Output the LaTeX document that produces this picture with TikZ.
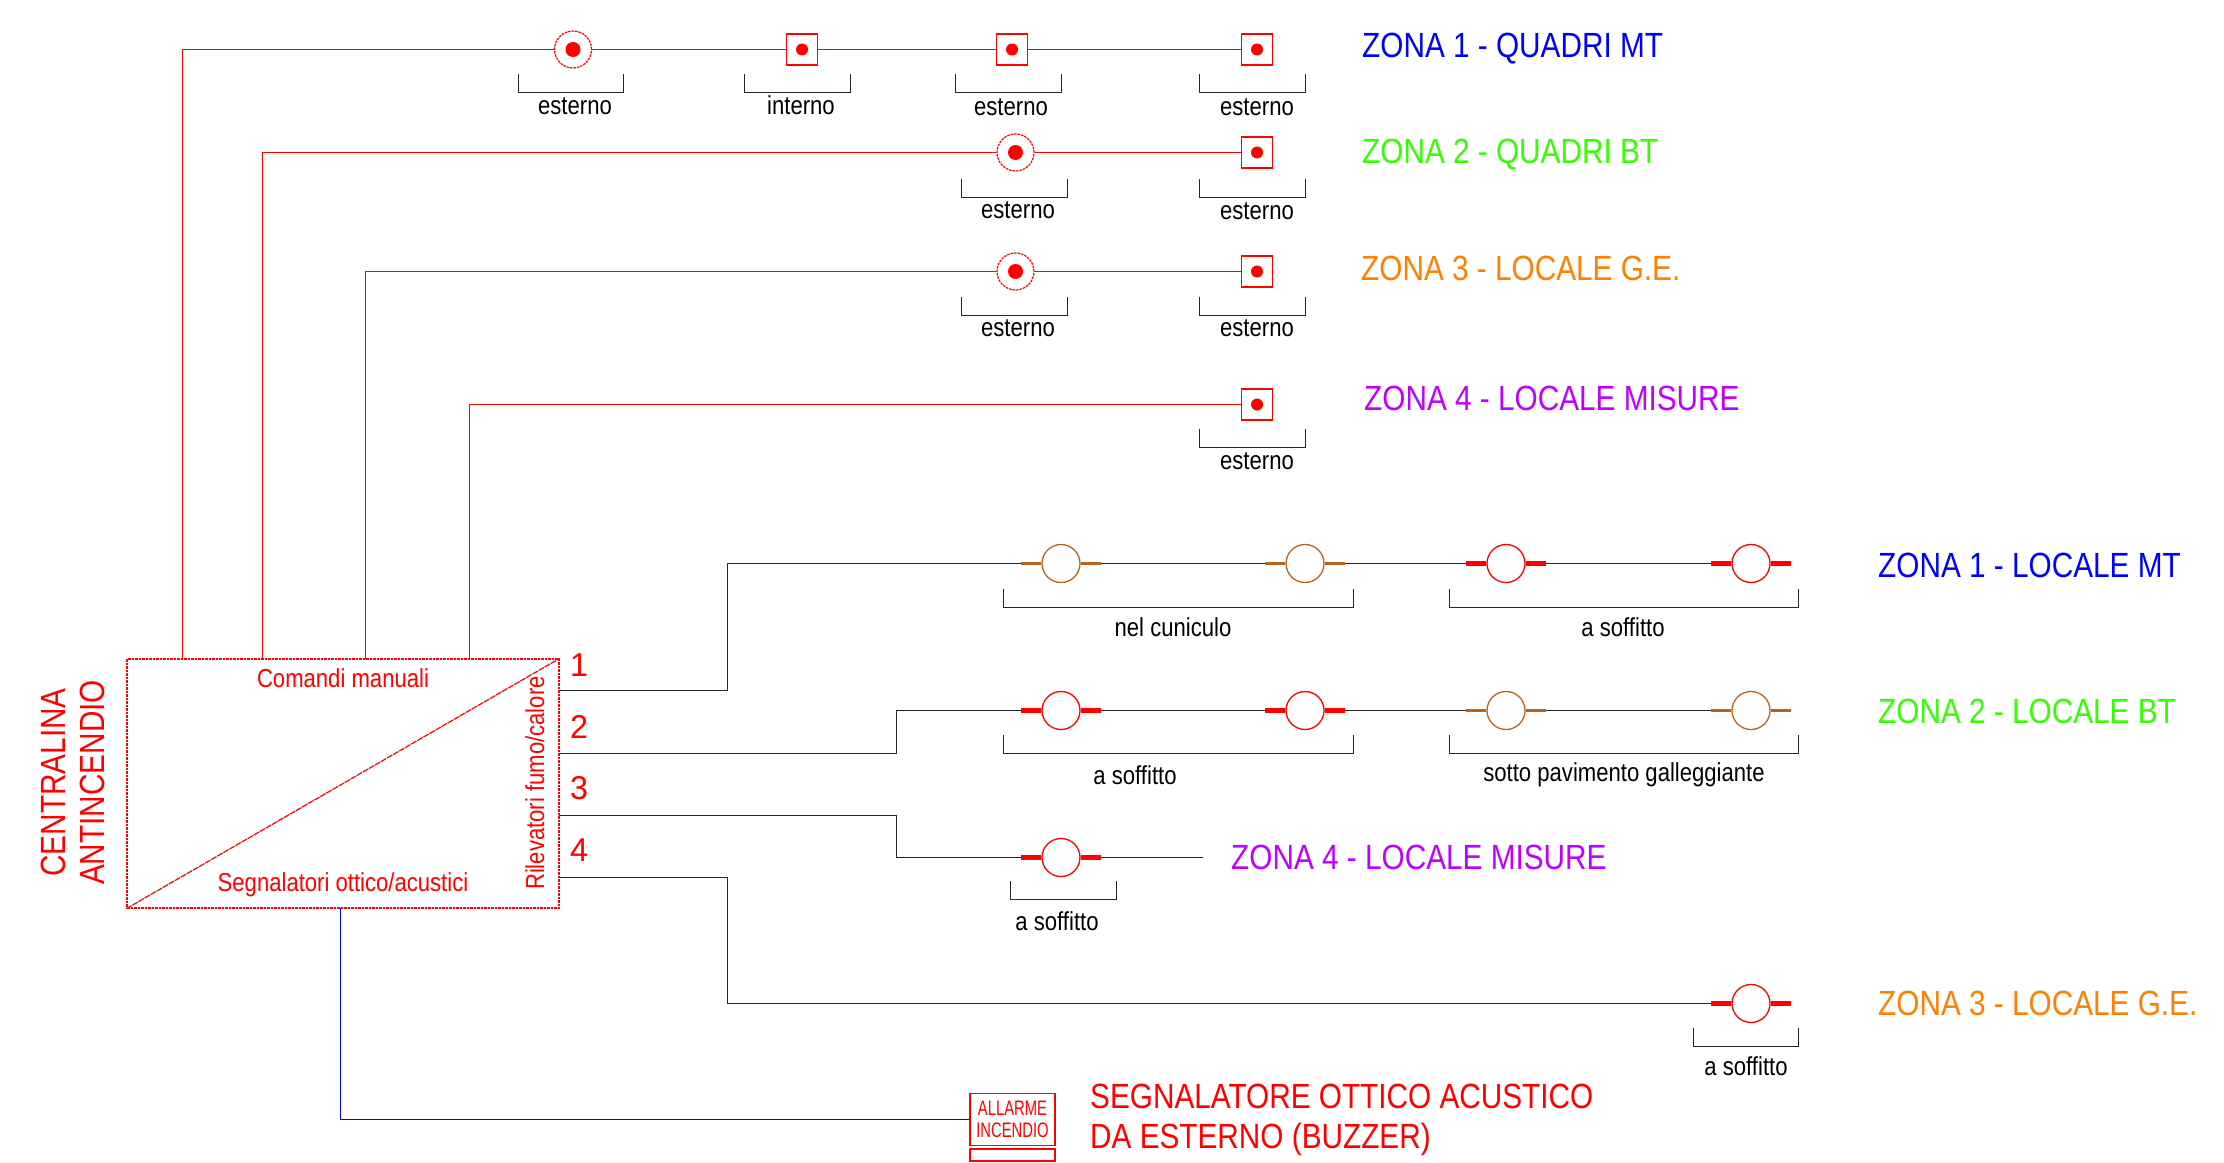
\documentclass[tikz,border=0pt]{standalone}
\usepackage{fontspec}
\setmainfont[FakeStretch=0.85]{Liberation Sans}
\definecolor{zonablue}{HTML}{0000FF}
\definecolor{zonagreen}{HTML}{33FF00}
\definecolor{zonaorange}{HTML}{FF7F00}
\definecolor{zonapurple}{HTML}{BF00FF}
\definecolor{cablebrown}{HTML}{B5651D}
\newcommand{\txtsize}[1]{\fontsize{#1}{#1}\selectfont}
\begin{document}
\begin{tikzpicture}[x=1pt,y=-1pt,
  redwire/.style={draw=red,line width=1.5pt},
  blackwire/.style={draw=black!85,line width=1.5pt},
  bluewire/.style={draw=blue,line width=1.5pt},
  manual/.style={circle,draw=red,line width=1.2pt,dash pattern=on 2.5pt off 1pt,minimum size=37pt,inner sep=0pt},
  manualin/.style={rectangle,draw=red,line width=1.5pt,minimum size=31pt,inner sep=0pt},
  sensred/.style={circle,draw=red,line width=1.3pt,minimum size=38pt,inner sep=0pt},
  sensbrown/.style={circle,draw=cablebrown,line width=1.3pt,minimum size=38pt,inner sep=0pt},
  stubred/.style={draw=red,line width=4.5pt},
  stubbrown/.style={draw=cablebrown,line width=3.5pt},
  bracket/.style={draw=black!85,line width=1.5pt},
  note/.style={text=black,inner sep=0pt,text height=16pt,text depth=0pt,font=\txtsize{26}},
  zona/.style={anchor=west,inner sep=0pt,text height=25pt,text depth=0pt,font=\txtsize{35}},
  panellabel/.style={text=red,inner sep=0pt,text height=18pt,text depth=0pt,font=\txtsize{26}},
  titlelabel/.style={text=red,inner sep=0pt,rotate=90,text height=25pt,text depth=0pt,font=\txtsize{35}},
  bignum/.style={text=red,inner sep=0pt,font=\txtsize{33}}]
\useasboundingbox (0,0) rectangle (2224,1162);

% control panel
\node (panel) [rectangle,draw=red,line width=1.2pt,dash pattern=on 2.5pt off 1pt,minimum width=432pt,minimum height=249pt,inner sep=0pt] at (343,783.5) {};
\draw [red,line width=1.2pt,dash pattern=on 6pt off 1pt] (panel.south west) -- (panel.north east);
\node (cmd) [panellabel] at (343,678) {Comandi manuali};
\node (seg) [panellabel] at (343,882) {Segnalatori ottico/acustici};
\node (ril) [panellabel,rotate=90] at (535,783) {Rilevatori fumo/calore};
\node (title1) [titlelabel] at (52.5,782.5) {CENTRALINA};
\node (title2) [titlelabel] at (92,782.5) {ANTINCENDIO};
\node (n1) [bignum] at (579,665) {\scalebox{1.15}[1]{1}};
\node (n2) [bignum] at (579,727) {\scalebox{1.15}[1]{2}};
\node (n3) [bignum] at (579,788) {\scalebox{1.15}[1]{3}};
\node (n4) [bignum] at (579,850) {\scalebox{1.15}[1]{4}};

% panel terminals
\coordinate (c1) at (182.5,659);
\coordinate (c2) at (262.5,659);
\coordinate (c3) at (365.5,659);
\coordinate (c4) at (469.5,659);
\coordinate (o1) at (559,690.5);
\coordinate (o2) at (559,753.5);
\coordinate (o3) at (559,815.5);
\coordinate (o4) at (559,877.5);
\coordinate (b1) at (340.5,908);

% manual call points
\node (a1) [manual] at (573,49.5) {};
\node (a2) [manualin] at (802,49.5) {};
\node (a3) [manualin] at (1012,49.5) {};
\node (a4) [manualin] at (1257,49.5) {};
\node (e1) [manual] at (1015.5,152.5) {};
\node (e2) [manualin] at (1257,152.5) {};
\node (f1) [manual] at (1015.5,271.5) {};
\node (f2) [manualin] at (1257,271.5) {};
\node (g1) [manualin] at (1257,404.5) {};
\fill [red] (a1) circle (7.5) (e1) circle (7.5) (f1) circle (7.5);
\fill [red] (a2) circle (6) (a3) circle (6) (a4) circle (6) (e2) circle (6) (f2) circle (6) (g1) circle (6);

\draw [redwire] (c1) |- (a1);
\draw [redwire] (a1) -- (a2);
\draw [redwire] (a2) -- (a3);
\draw [redwire] (a3) -- (a4);
\draw [redwire] (c2) |- (e1);
\draw [redwire] (e1) -- (e2);
\draw [redwire] (c3) |- (f1);
\draw [redwire] (f1) -- (f2);
\draw [redwire] (c4) |- (g1);

% smoke and heat sensors
\node (p1) [sensbrown] at (1061,563.5) {};
\node (p2) [sensbrown] at (1305,563.5) {};
\node (p3) [sensred] at (1506,563.5) {};
\node (p4) [sensred] at (1751,563.5) {};
\node (q1) [sensred] at (1061,710.5) {};
\node (q2) [sensred] at (1305,710.5) {};
\node (q3) [sensbrown] at (1506,710.5) {};
\node (q4) [sensbrown] at (1751,710.5) {};
\node (r1) [sensred] at (1061,857.5) {};
\node (s1) [sensred] at (1751,1003.5) {};
\coordinate (rend) at (1203,857.5);

\draw [blackwire] (o1) -- (727.5,690.5) |- (p1);
\draw [blackwire] (p1) -- (p2);
\draw [blackwire] (p2) -- (p3);
\draw [blackwire] (p3) -- (p4);
\draw [blackwire] (o2) -- (896.5,753.5) |- (q1);
\draw [blackwire] (q1) -- (q2);
\draw [blackwire] (q2) -- (q3);
\draw [blackwire] (q3) -- (q4);
\draw [blackwire] (o3) -- (896.5,815.5) |- (r1);
\draw [blackwire] (r1) -- (rend);
\draw [blackwire] (o4) -- (727.5,877.5) |- (s1);

\draw [stubbrown] (p1.west) -- ++(-20,0) (p1.east) -- ++(20,0);
\draw [stubbrown] (p2.west) -- ++(-20,0) (p2.east) -- ++(20,0);
\draw [stubred] (p3.west) -- ++(-20,0) (p3.east) -- ++(20,0);
\draw [stubred] (p4.west) -- ++(-20,0) (p4.east) -- ++(20,0);
\draw [stubred] (q1.west) -- ++(-20,0) (q1.east) -- ++(20,0);
\draw [stubred] (q2.west) -- ++(-20,0) (q2.east) -- ++(20,0);
\draw [stubbrown] (q3.west) -- ++(-20,0) (q3.east) -- ++(20,0);
\draw [stubbrown] (q4.west) -- ++(-20,0) (q4.east) -- ++(20,0);
\draw [stubred] (r1.west) -- ++(-20,0) (r1.east) -- ++(20,0);
\draw [stubred] (s1.west) -- ++(-20,0) (s1.east) -- ++(20,0);

% brackets
\draw [bracket] (518.5,74) -- (518.5,92.5) -- (623.5,92.5) -- (623.5,74);
\draw [bracket] (744.5,74) -- (744.5,92.5) -- (850.5,92.5) -- (850.5,74);
\draw [bracket] (955.5,74) -- (955.5,92.5) -- (1061.5,92.5) -- (1061.5,74);
\draw [bracket] (1199.5,74) -- (1199.5,92.5) -- (1305.5,92.5) -- (1305.5,74);
\draw [bracket] (961.5,179) -- (961.5,197.5) -- (1067.5,197.5) -- (1067.5,179);
\draw [bracket] (1199.5,179) -- (1199.5,197.5) -- (1305.5,197.5) -- (1305.5,179);
\draw [bracket] (961.5,297) -- (961.5,315.5) -- (1067.5,315.5) -- (1067.5,297);
\draw [bracket] (1199.5,297) -- (1199.5,315.5) -- (1305.5,315.5) -- (1305.5,297);
\draw [bracket] (1199.5,429) -- (1199.5,447.5) -- (1305.5,447.5) -- (1305.5,429);
\draw [bracket] (1003.5,589) -- (1003.5,607.5) -- (1353.5,607.5) -- (1353.5,589);
\draw [bracket] (1449.5,589) -- (1449.5,607.5) -- (1798.5,607.5) -- (1798.5,589);
\draw [bracket] (1003.5,735) -- (1003.5,753.5) -- (1353.5,753.5) -- (1353.5,735);
\draw [bracket] (1449.5,735) -- (1449.5,753.5) -- (1798.5,753.5) -- (1798.5,735);
\draw [bracket] (1010.5,881) -- (1010.5,899.5) -- (1116.5,899.5) -- (1116.5,881);
\draw [bracket] (1693.5,1028) -- (1693.5,1046.5) -- (1798.5,1046.5) -- (1798.5,1028);

% bracket labels
\node (l1) [note] at (575,106) {esterno};
\node (l2) [note] at (801,106) {interno};
\node (l3) [note] at (1011,107) {esterno};
\node (l4) [note] at (1257,107) {esterno};
\node (l5) [note] at (1018,210) {esterno};
\node (l6) [note] at (1257,211) {esterno};
\node (l7) [note] at (1018,328) {esterno};
\node (l8) [note] at (1257,328) {esterno};
\node (l9) [note] at (1257,461) {esterno};
\node (l10) [note] at (1173,628) {nel cuniculo};
\node (l11) [note] at (1623,628) {a soffitto};
\node (l12) [note] at (1135,776) {a soffitto};
\node (l13) [note] at (1624,773) {sotto pavimento galleggiante};
\node (l14) [note] at (1057,922) {a soffitto};
\node (l15) [note] at (1746,1067) {a soffitto};

% zones
\node (z1) [zona,text=zonablue] at (1362,45) {ZONA 1 - QUADRI MT};
\node (z2) [zona,text=zonagreen] at (1362,150.5) {ZONA 2 - QUADRI BT};
\node (z3) [zona,text=zonaorange] at (1361,268) {ZONA 3 - LOCALE G.E.};
\node (z4) [zona,text=zonapurple] at (1364,398) {ZONA 4 - LOCALE MISURE};
\node (z5) [zona,text=zonablue] at (1878,565) {ZONA 1 - LOCALE MT};
\node (z6) [zona,text=zonagreen] at (1878,711) {ZONA 2 - LOCALE BT};
\node (z7) [zona,text=zonapurple] at (1231,857) {ZONA 4 - LOCALE MISURE};
\node (z8) [zona,text=zonaorange] at (1878,1003) {ZONA 3 - LOCALE G.E.};

% buzzer
\node (buzzer) [rectangle,draw=red,line width=1.5pt,minimum width=85pt,minimum height=52pt,inner sep=0pt,align=center,text=red,font=\fontsize{21}{22}\selectfont] at (1012.5,1119.5) {\scalebox{0.83}[1]{ALLARME}\\\scalebox{0.83}[1]{INCENDIO}};
\node (foot) [rectangle,draw=red,line width=1.5pt,minimum width=85pt,minimum height=12pt,inner sep=0pt] at (1012.5,1155) {};
\draw [bluewire] (b1) |- (buzzer);
\node (buz1) [zona,text=red] at (1090,1095.5) {SEGNALATORE OTTICO ACUSTICO};
\node (buz2) [zona,text=red] at (1090,1135.5) {DA ESTERNO (BUZZER)};
\end{tikzpicture}
\end{document}
